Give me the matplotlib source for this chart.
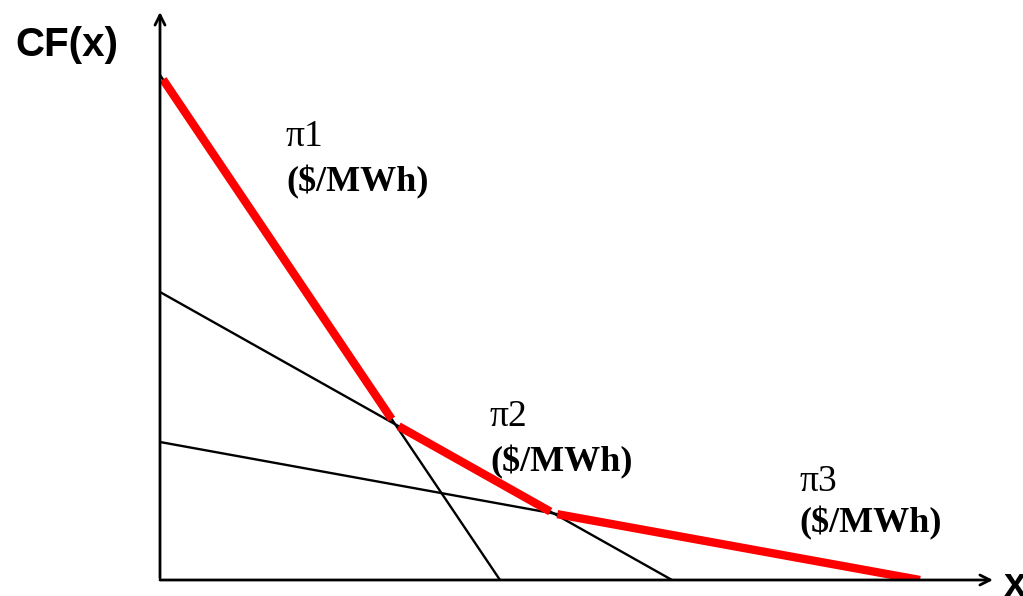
import numpy as np
import matplotlib.pyplot as plt

# Tres tramos de coste lineal: intercepto en y y corte con el eje x
interceptos = [10.1, 5.76, 2.76]
cortes_x = [6.8, 10.24, 15.2]
etiquetas = ['\u03c01', '\u03c02', '\u03c03']
unidad = '($/MWh)'

# Pendientes y puntos de quiebre de la envolvente
pendientes = [b / c for b, c in zip(interceptos, cortes_x)]


def recta(i, x):
    return interceptos[i] - pendientes[i] * x


def cruce(i, j):
    return (interceptos[i] - interceptos[j]) / (pendientes[i] - pendientes[j])


quiebres = [0.06, cruce(0, 1), cruce(1, 2), cortes_x[2]]

W, H = 1023, 596
fig = plt.figure(figsize=(W / 100, H / 100), dpi=100)
ax = fig.add_axes([160 / W, 16 / H, 1 - 160 / W, 1 - 16 / H])
ax.set_xlim(0, 17.26)
ax.set_ylim(0, 11.6)
ax.axis('off')

# Ejes con flecha
ax.annotate('', xy=(16.66, 0), xytext=(0, 0),
            arrowprops=dict(arrowstyle='->', lw=2, color='black',
                            shrinkA=0, shrinkB=0, mutation_scale=18))
ax.annotate('', xy=(0, 11.36), xytext=(0, 0.04),
            arrowprops=dict(arrowstyle='->', lw=2, color='black',
                            shrinkA=0, shrinkB=0, mutation_scale=18))

# Rectas de coste (negro)
for i in range(3):
    xs = np.array([0, cortes_x[i]])
    ax.plot(xs, recta(i, xs), color='black', lw=1.7, solid_capstyle='butt')

# Envolvente inferior (rojo), con pequeños huecos en los quiebres
gap = 0.07
for i in range(3):
    x0 = quiebres[i] + (gap if i > 0 else 0)
    x1 = quiebres[i + 1] - (gap if i < 2 else 0)
    xs = np.array([x0, x1])
    ax.plot(xs, recta(i, xs), color='#ff0000', lw=6, solid_capstyle='butt')

# Etiquetas de precio
pos_etiquetas = [(2.52, 8.86, 7.96), (6.6, 3.26, 2.36), (12.78, 1.96, 1.14)]
for lab, (xt, y1, y2) in zip(etiquetas, pos_etiquetas):
    ax.text(xt, y1, lab, family='Liberation Serif', fontsize=27,
            ha='left', va='center')
    ax.text(xt, y2, unidad, family='Liberation Serif', fontsize=26,
            fontweight='bold', ha='left', va='center')

fig.text(15 / W, 1 - 45 / H, 'CF(x)', family='Liberation Sans',
         fontsize=29, fontweight='bold', ha='left', va='center')
fig.text(1004 / W, 1 - 585 / H, 'x', family='Liberation Sans',
         fontsize=29, fontweight='bold', ha='left', va='center')

fig.savefig('out.png', dpi=100)
